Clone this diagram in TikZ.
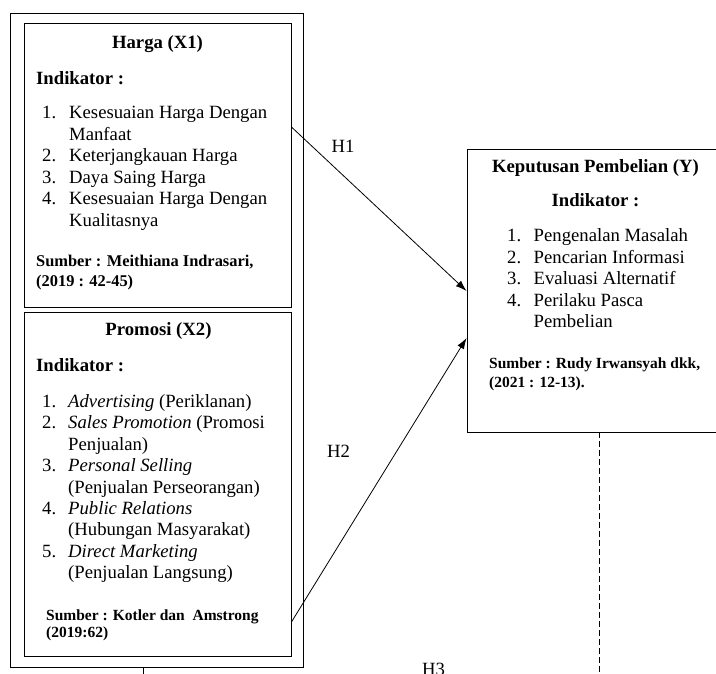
\documentclass[tikz,border=0pt]{standalone}
\usepackage{fontspec}
\setmainfont{Liberation Serif}
\usetikzlibrary{arrows.meta,fit}

\newcommand{\teksisi}{\fontsize{18.7}{21.5}\selectfont}
\newcommand{\tekssumber}{\fontsize{16.4}{19.5}\selectfont\bfseries}

\tikzset{
  kotak/.style={draw, line width=0.9pt, inner sep=0pt},
  judul/.style={anchor=base, inner sep=0pt, font=\teksisi\bfseries},
  isi/.style={anchor=base west, inner sep=0pt, font=\teksisi},
  sumber/.style={anchor=base west, inner sep=0pt, font=\tekssumber},
  panah/.style={-{Latex[length=11pt,width=7.5pt]}, line width=0.8pt},
  hipotesis/.style={anchor=base, inner sep=0pt, font=\teksisi},
}

\begin{document}
\begin{tikzpicture}[x=1pt, y=-1pt]
\useasboundingbox (0,0) rectangle (716,674);
\clip (0,0) rectangle (716,674);

% kotak variabel
\node[kotak, fit={(10,13) (303,667)}] (luar) {};
\node[kotak, fit={(24,23) (291,307)}] (harga) {};
\node[kotak, fit={(24,312) (291,656)}] (promosi) {};
\node[kotak, fit={(467,149) (730,432)}] (keputusan) {};

% Harga (X1)
\node[judul] (judulX1) at (157.5,49) {Harga (X1)};
\node[isi, font=\teksisi\bfseries] (indX1) at (36,85) {Indikator :};
\node[isi] (listX1) at (42,119) {\begin{tabular}[t]{@{}p{27pt}@{}l@{}}
1. & Kesesuaian Harga Dengan\\
   & Manfaat\\
2. & Keterjangkauan Harga\\
3. & Daya Saing Harga\\
4. & Kesesuaian Harga Dengan\\
   & Kualitasnya
\end{tabular}};
\node[sumber] (sbrX1) at (36,267) {\begin{tabular}[t]{@{}l@{}}
Sumber : Meithiana Indrasari,\\
(2019 : 42-45)
\end{tabular}};

% Promosi (X2)
\node[judul] (judulX2) at (158.5,335) {Promosi (X2)};
\node[isi, font=\teksisi\bfseries] (indX2) at (36,371) {Indikator :};
\node[isi] (listX2) at (42,407) {\begin{tabular}[t]{@{}p{26pt}@{}l@{}}
1. & \textit{Advertising} (Periklanan)\\
2. & \textit{Sales Promotion} (Promosi\\
   & Penjualan)\\
3. & \textit{Personal Selling}\\
   & (Penjualan Perseorangan)\\
4. & \textit{Public Relations}\\
   & (Hubungan Masyarakat)\\
5. & \textit{Direct Marketing}\\
   & (Penjualan Langsung)
\end{tabular}};
\node[sumber, font={\fontsize{15.5}{17}\selectfont\bfseries}] (sbrX2) at (46,620) {\begin{tabular}[t]{@{}l@{}}
Sumber : Kotler dan~ Amstrong\\
(2019:62)
\end{tabular}};

% Keputusan Pembelian (Y)
\node[judul] (judulY) at (595.5,173) {Keputusan Pembelian (Y)};
\node[judul] (indY) at (595.5,207) {Indikator :};
\node[isi] (listY) at (507,242) {\begin{tabular}[t]{@{}p{26.5pt}@{}l@{}}
1. & Pengenalan Masalah\\
2. & Pencarian Informasi\\
3. & Evaluasi Alternatif\\
4. & Perilaku Pasca\\
   & Pembelian
\end{tabular}};
\node[sumber, font={\fontsize{15.5}{20}\selectfont\bfseries}] (sbrY) at (489,368) {\begin{tabular}[t]{@{}l@{}}
Sumber : Rudy Irwansyah dkk,\\
(2021 : 12-13).
\end{tabular}};

% hipotesis
\draw[panah] (harga.east |- 0,127) -- (keputusan.west |- 0,291);
\draw[panah] (promosi.east |- 0,622) -- (keputusan.west |- 0,338);
\node[hipotesis] (h1) at (343,153) {H1};
\node[hipotesis] (h2) at (338.5,457) {H2};
\node[hipotesis] (h3) at (433.5,675) {H3};

\coordinate (ujungX) at (143,690);
\coordinate (ujungY) at (599,690);
\draw[line width=0.8pt] (luar.south -| ujungX) -- (ujungX);
\draw[line width=0.8pt, dash pattern=on 6pt off 3pt] (keputusan.south -| ujungY) -- (ujungY);
\end{tikzpicture}
\end{document}
